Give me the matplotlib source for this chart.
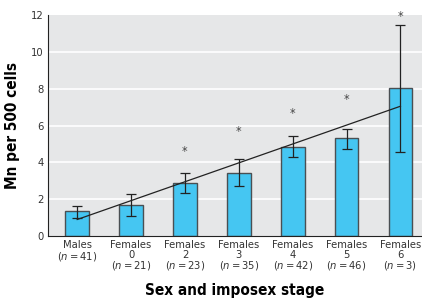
import matplotlib
matplotlib.use("Agg")
import matplotlib.pyplot as plt
import numpy as np

plt.rcParams['font.family'] = ['DejaVu Sans Condensed', 'DejaVu Sans']
plt.rcParams['font.stretch'] = 'condensed'
plt.rcParams['mathtext.fontset'] = 'custom'
plt.rcParams['mathtext.it'] = 'DejaVu Sans Condensed:italic'
plt.rcParams['mathtext.rm'] = 'DejaVu Sans Condensed'

groups = ["Males", "Females\n0", "Females\n2", "Females\n3", "Females\n4", "Females\n5", "Females\n6"]
nSizes = [41, 21, 23, 35, 42, 46, 3]
means = [1.35, 1.7, 2.9, 3.45, 4.85, 5.3, 8.05]
errLow = [1.0, 1.1, 2.35, 2.7, 4.3, 4.75, 4.55]
errHigh = [1.65, 2.3, 3.45, 4.2, 5.42, 5.8, 11.45]
starY = [None, None, 4.6, 5.7, 6.65, 7.4, 11.9]
trendStart = 0.9
trendEnd = 7.05

fig = plt.figure(figsize=(4.22, 3.07), dpi=100)
ax = fig.add_axes([0.114, 0.231, 0.886, 0.72])
ax.set_facecolor('#e6e7e8')

x = np.arange(len(groups))
means = np.array(means)
yerr = [means - np.array(errLow), np.array(errHigh) - means]

ax.bar(x, means, width=0.44, color='#45c6f2', edgecolor='#4a4f53', linewidth=1.0, zorder=2)
ax.errorbar(x, means, yerr=yerr, fmt='none', ecolor='#222222', elinewidth=0.9, capsize=3.5, capthick=0.9, zorder=3)
ax.plot([x[0], x[-1]], [trendStart, trendEnd], color='#222222', linewidth=0.9, zorder=4)

for xi, sy in zip(x, starY):
    if sy is not None:
        ax.text(xi, sy, '*', ha='center', va='center', fontsize=9, color='#444444')

ax.set_ylim(0, 12)
ax.set_xlim(-0.54, 6.4)
ax.set_yticks(range(0, 13, 2))
for yv in range(2, 12, 2):
    ax.axhline(yv, color='white', linewidth=1.2, zorder=1)

labels = [g + "\n($n = %d$)" % n for g, n in zip(groups, nSizes)]
ax.set_xticks(x)
ax.set_xticklabels(labels, fontsize=8, color='#333333', linespacing=0.95)
ax.tick_params(axis='both', length=0, pad=3, labelsize=8, colors='#333333')

for s in ['top', 'right']:
    ax.spines[s].set_visible(False)
ax.spines['left'].set_color('#222222')
ax.spines['bottom'].set_color('#222222')

ax.set_ylabel('Mn per 500 cells', fontsize=11, fontweight='bold', labelpad=8)
ax.set_xlabel('Sex and imposex stage', fontsize=11, fontweight='bold', labelpad=8)

fig.savefig('out.png', dpi=100)
